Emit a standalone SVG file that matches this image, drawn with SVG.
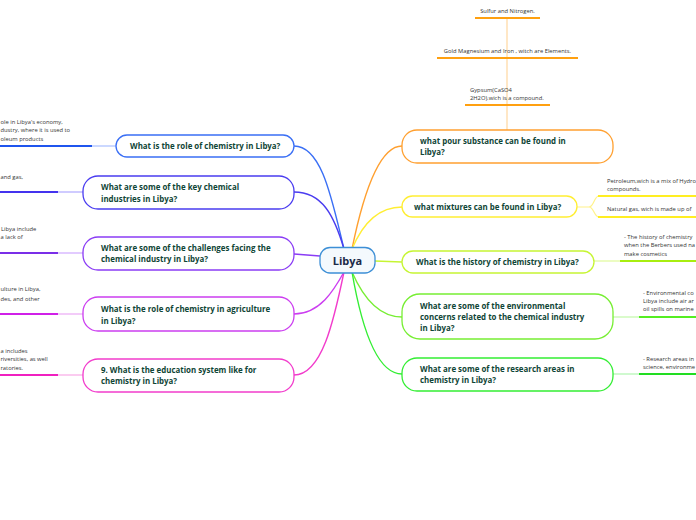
<svg xmlns="http://www.w3.org/2000/svg" width="696" height="520" viewBox="0 0 696 520">
<style>
.node{fill:#ffffff;stroke-width:1.3}
.t{font-family:"Open Sans","Noto Sans","Liberation Sans",sans-serif;font-weight:bold;font-size:7.9px;fill:#0f4536}
.s{font-family:"Open Sans","Noto Sans","Liberation Sans",sans-serif;font-size:5.8px;fill:#333333}
.c{fill:none;stroke-width:1.4}
.u{fill:none;stroke-width:2}
.lt{fill:none;stroke-width:1.2}
</style>
<rect width="696" height="520" fill="#ffffff"/>
<g id="connectors">
  <path class="c" stroke="#3a6ff5" d="M294,146 C322,146 332,200 344,249"/>
  <path class="c" stroke="#4a3cf0" d="M294,192 C322,192 334,215 344,249"/>
  <path class="c" stroke="#8a3cf5" d="M294,254 L320,256"/>
  <path class="c" stroke="#cc3ef0" d="M294,314 C320,314 334,290 344,272"/>
  <path class="c" stroke="#f23ccc" d="M294,375 C322,375 334,320 344,272"/>
  <path class="c" stroke="#ffa030" d="M402,146 C378,146 362,200 352,249"/>
  <path class="c" stroke="#ffee33" d="M402,207 C378,207 362,225 352,249"/>
  <path class="c" stroke="#c6f533" d="M375,261 L402,262"/>
  <path class="c" stroke="#77ee33" d="M402,317 C378,317 362,295 352,272"/>
  <path class="c" stroke="#33ee33" d="M402,374 C378,374 362,330 352,272"/>
  <path class="lt" stroke="#a8bfff" d="M92,146 L116,146"/>
  <path class="u" stroke="#1f55ee" d="M0,146 L92,146"/>
  <path class="lt" stroke="#b0a8ff" d="M58,192 L83,192"/>
  <path class="u" stroke="#4433ee" d="M0,192 L58,192"/>
  <path class="lt" stroke="#cfa8ff" d="M58,253 L83,253"/>
  <path class="u" stroke="#7a2ee8" d="M0,253 L58,253"/>
  <path class="lt" stroke="#eba8f5" d="M58,314 L83,314"/>
  <path class="u" stroke="#d020e8" d="M0,314 L58,314"/>
  <path class="lt" stroke="#f8a8e6" d="M58,375 L83,375"/>
  <path class="u" stroke="#f020c0" d="M0,375 L58,375"/>
  <path class="lt" stroke="#ffd8a0" d="M507,130 L507,105 M507,105 L507,58 M507,58 L507,18"/>
  <path class="u" stroke="#ffa010" d="M465,105 L550,105 M437,58 L578,58 M475,18 L540,18"/>
  <path class="lt" stroke="#fff28a" d="M577,207 L589,207 C594,207 594,196 599,196 M589,207 C594,207 594,217 599,217"/>
  <path class="u" stroke="#ffee22" d="M598,196 L696,196 M598,217 L696,217"/>
  <path class="lt" stroke="#e0fa9a" d="M594,261 L620,261"/>
  <path class="u" stroke="#a8ee10" d="M620,261 L696,261"/>
  <path class="lt" stroke="#c2f8a8" d="M613,317 L639,317"/>
  <path class="u" stroke="#55ee22" d="M639,317 L696,317"/>
  <path class="lt" stroke="#b0f5b0" d="M613,374 L639,374"/>
  <path class="u" stroke="#22dd22" d="M639,374 L696,374"/>
</g>
<g id="center">
  <rect x="320" y="247.5" width="55" height="25.5" rx="10" fill="#f4f9fd" stroke="#3d8fd6" stroke-width="1.3"/>
  <text x="347.5" y="264.5" text-anchor="middle" style="font-family:'Open Sans','Noto Sans',sans-serif;font-weight:bold;font-size:11px;fill:#1b2a48">Libya</text>
</g>
<g id="n-role">
  <rect class="node" x="116" y="135" width="178" height="22" rx="11" stroke="#3a6ff5"/>
  <text class="t" x="130" y="149">What is the role of chemistry in Libya?</text>
</g>
<g id="n-role-detail">
  <text class="s" x="0.5" y="124">ole in Libya's economy,</text>
  <text class="s" x="0.5" y="132">dustry, where it is used to</text>
  <text class="s" x="0.5" y="141">oleum products</text>
</g>
<g id="n-industries">
  <rect class="node" x="83" y="176" width="211" height="33" rx="15" stroke="#4a3cf0"/>
  <text class="t" x="101" y="190">What are some of the key chemical</text>
  <text class="t" x="101" y="202">industries in Libya?</text>
</g>
<g id="n-industries-detail">
  <text class="s" x="0.5" y="179">and gas,</text>
</g>
<g id="n-challenges">
  <rect class="node" x="83" y="237" width="211" height="33" rx="15" stroke="#8a3cf5"/>
  <text class="t" x="101" y="251">What are some of the challenges facing the</text>
  <text class="t" x="101" y="262">chemical industry in Libya?</text>
</g>
<g id="n-challenges-detail">
  <text class="s" x="1" y="231">Libya include</text>
  <text class="s" x="0.5" y="239">a lack of</text>
</g>
<g id="n-agriculture">
  <rect class="node" x="83" y="297" width="211" height="34" rx="15" stroke="#cc3ef0"/>
  <text class="t" x="101" y="312"> What is the role of chemistry in agriculture</text>
  <text class="t" x="101" y="324">in Libya?</text>
</g>
<g id="n-agriculture-detail">
  <text class="s" x="0.5" y="291">ulture in Libya,</text>
  <text class="s" x="0.5" y="301">des, and other</text>
</g>
<g id="n-education">
  <rect class="node" x="83" y="359" width="211" height="33" rx="15" stroke="#f23ccc"/>
  <text class="t" x="101" y="373">9. What is the education system like for</text>
  <text class="t" x="101" y="384">chemistry in Libya?</text>
</g>
<g id="n-education-detail">
  <text class="s" x="0.5" y="353">a includes</text>
  <text class="s" x="0.5" y="361">riversities, as well</text>
  <text class="s" x="0.5" y="370">ratories.</text>
</g>
<g id="n-substance">
  <rect class="node" x="402" y="130" width="211" height="33" rx="15" stroke="#ffa030"/>
  <text class="t" x="420" y="144">what pour substance can be found in</text>
  <text class="t" x="420" y="155">Libya?</text>
</g>
<g id="n-gypsum">
  <text class="s" x="470" y="92">Gypsum(CaSO4</text>
  <text class="s" x="470" y="100">2H2O).wich is a compound.</text>
</g>
<g id="n-elements">
  <text class="s" x="507.5" y="53" text-anchor="middle">Gold Magnesium and Iron , witch are Elements.</text>
</g>
<g id="n-sulfur">
  <text class="s" x="507.5" y="13" text-anchor="middle">Sulfur and Nitrogen.</text>
</g>
<g id="n-mixtures">
  <rect class="node" x="402" y="196" width="175" height="21" rx="10.5" stroke="#ffee33"/>
  <text class="t" x="414" y="210">what mixtures can be found in Libya?</text>
</g>
<g id="n-petroleum">
  <text class="s" x="607" y="183">Petroleum,wich is a mix of Hydro</text>
  <text class="s" x="607" y="191">compounds.</text>
</g>
<g id="n-naturalgas">
  <text class="s" x="607" y="211">Natural gas, wich is made up of</text>
</g>
<g id="n-history">
  <rect class="node" x="402" y="251" width="192" height="22" rx="11" stroke="#c6f533"/>
  <text class="t" x="416" y="265">What is the history of chemistry in Libya?</text>
</g>
<g id="n-history-detail">
  <text class="s" x="624" y="239">- The history of chemistry</text>
  <text class="s" x="624" y="247">when the Berbers used na</text>
  <text class="s" x="624" y="256">make cosmetics</text>
</g>
<g id="n-environment">
  <rect class="node" x="402" y="294" width="211" height="45" rx="18" stroke="#77ee33"/>
  <text class="t" x="420" y="309">What are some of the environmental</text>
  <text class="t" x="420" y="320">concerns related to the chemical industry</text>
  <text class="t" x="420" y="331">in Libya?</text>
</g>
<g id="n-environment-detail">
  <text class="s" x="643" y="295">- Environmental co</text>
  <text class="s" x="643" y="303">Libya include air ar</text>
  <text class="s" x="643" y="311">oil spills on marine</text>
</g>
<g id="n-research">
  <rect class="node" x="402" y="358" width="211" height="33" rx="15" stroke="#33ee33"/>
  <text class="t" x="420" y="372">What are some of the research areas in</text>
  <text class="t" x="420" y="383">chemistry in Libya?</text>
</g>
<g id="n-research-detail">
  <text class="s" x="643" y="361">- Research areas in</text>
  <text class="s" x="643" y="369">science, environme</text>
</g>
</svg>
